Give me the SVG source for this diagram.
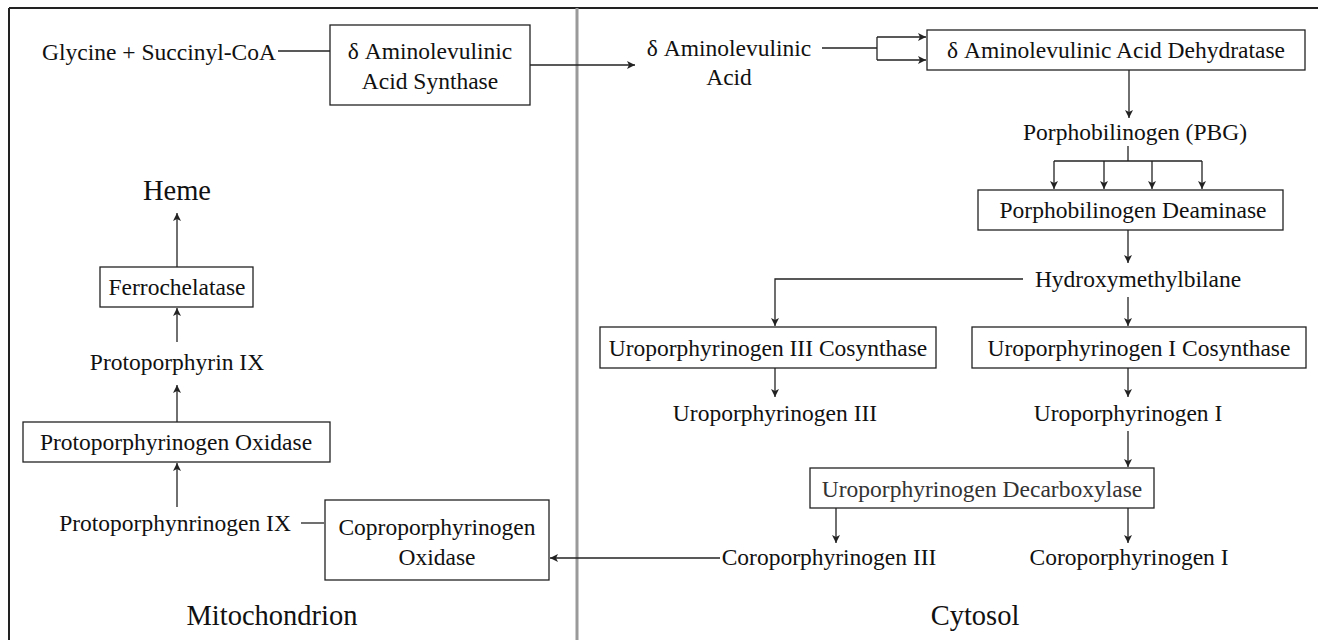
<svg xmlns="http://www.w3.org/2000/svg" width="1318" height="640" viewBox="0 0 1318 640">
<style>
text{font-family:"Liberation Serif","Times New Roman",serif;font-size:23.5px;fill:#111;text-anchor:middle;dominant-baseline:central}
.big{font-size:28.5px}
.box{fill:#fff;stroke:#222;stroke-width:1.3}
.ln{fill:none;stroke:#222;stroke-width:1.3}
.arr{fill:none;stroke:#222;stroke-width:1.3;marker-end:url(#ah)}
</style>
<defs>
<marker id="ah" markerWidth="10" markerHeight="10" refX="9" refY="5" orient="auto" markerUnits="userSpaceOnUse">
<path d="M1,1 L9,5 L1,9 L3,5 Z" fill="#222"/>
</marker>
</defs>
<rect width="1318" height="640" fill="#fff"/>
<g id="frame">
<line x1="9" y1="8" x2="1318" y2="8" stroke="#222" stroke-width="2"/>
<line x1="9" y1="8" x2="9" y2="640" stroke="#222" stroke-width="2"/>
<line x1="577" y1="8" x2="577" y2="640" stroke="#9a9a9a" stroke-width="3"/>
</g>
<g id="connectors">
<line class="ln" x1="278" y1="51" x2="330" y2="51"/>
<line class="arr" x1="530" y1="65" x2="635" y2="65"/>
<line class="ln" x1="822" y1="48" x2="877" y2="48"/>
<line class="ln" x1="877" y1="37" x2="877" y2="60"/>
<line class="arr" x1="877" y1="37" x2="926" y2="37"/>
<line class="arr" x1="877" y1="60" x2="926" y2="60"/>
<line class="arr" x1="1129" y1="70" x2="1129" y2="118"/>
<line class="ln" x1="1128" y1="146" x2="1128" y2="161"/>
<line class="ln" x1="1054" y1="161" x2="1202" y2="161"/>
<line class="arr" x1="1054" y1="161" x2="1054" y2="189"/>
<line class="arr" x1="1104" y1="161" x2="1104" y2="189"/>
<line class="arr" x1="1152" y1="161" x2="1152" y2="189"/>
<line class="arr" x1="1202" y1="161" x2="1202" y2="189"/>
<line class="arr" x1="1128" y1="230" x2="1128" y2="263"/>
<polyline class="arr" points="1023,279 775,279 775,326"/>
<line class="arr" x1="1128" y1="297" x2="1128" y2="326"/>
<line class="arr" x1="775" y1="368" x2="775" y2="397"/>
<line class="arr" x1="1128" y1="368" x2="1128" y2="397"/>
<line class="arr" x1="1128" y1="431" x2="1128" y2="467"/>
<line class="arr" x1="836" y1="508" x2="836" y2="543"/>
<line class="arr" x1="1128" y1="508" x2="1128" y2="543"/>
<line class="arr" x1="720" y1="558" x2="550" y2="558"/>
<line class="ln" x1="301" y1="523" x2="324" y2="523"/>
<line class="arr" x1="177" y1="507" x2="177" y2="463"/>
<line class="arr" x1="177" y1="422" x2="177" y2="385"/>
<line class="arr" x1="177" y1="342" x2="177" y2="308"/>
<line class="arr" x1="177" y1="267" x2="177" y2="213"/>
</g>
<g id="n-glycine"><text x="159" y="52">Glycine + Succinyl-CoA</text></g>
<g id="n-alas"><rect class="box" x="330" y="25" width="200" height="80"/><text x="430" y="51">δ Aminolevulinic</text><text x="430" y="81">Acid Synthase</text></g>
<g id="n-ala"><text x="729" y="48">δ Aminolevulinic</text><text x="729" y="77">Acid</text></g>
<g id="n-alad"><rect class="box" x="927" y="30" width="378" height="40"/><text x="1116" y="50">δ Aminolevulinic Acid Dehydratase</text></g>
<g id="n-pbg"><text x="1135" y="132">Porphobilinogen (PBG)</text></g>
<g id="n-pbgd"><rect class="box" x="978" y="190" width="305" height="40"/><text x="1133" y="210">Porphobilinogen Deaminase</text></g>
<g id="n-hmb"><text x="1138" y="279">Hydroxymethylbilane</text></g>
<g id="n-u3s"><rect class="box" x="600" y="327" width="336" height="41"/><text x="768" y="348">Uroporphyrinogen III Cosynthase</text></g>
<g id="n-u1s"><rect class="box" x="972" y="327" width="334" height="41"/><text x="1139" y="348">Uroporphyrinogen I Cosynthase</text></g>
<g id="n-u3"><text x="775" y="413">Uroporphyrinogen III</text></g>
<g id="n-u1"><text x="1128" y="413">Uroporphyrinogen I</text></g>
<g id="n-urod"><rect class="box" x="810" y="468" width="344" height="40"/><text x="982" y="489" style="fill:#333">Uroporphyrinogen Decarboxylase</text></g>
<g id="n-c3"><text x="829" y="557">Coroporphyrinogen III</text></g>
<g id="n-c1"><text x="1129" y="557">Coroporphyrinogen I</text></g>
<g id="n-cytosol"><text class="big" x="975" y="615">Cytosol</text></g>
<g id="n-cpox"><rect class="box" x="325" y="500" width="224" height="80"/><text x="437" y="527">Coproporphyrinogen</text><text x="437" y="557">Oxidase</text></g>
<g id="n-ppgen"><text x="175" y="523">Protoporphynrinogen IX</text></g>
<g id="n-ppox"><rect class="box" x="23" y="422" width="307" height="40"/><text x="176" y="442">Protoporphyrinogen Oxidase</text></g>
<g id="n-pp"><text x="177" y="362">Protoporphyrin IX</text></g>
<g id="n-fech"><rect class="box" x="100" y="267" width="153" height="40"/><text x="177" y="287">Ferrochelatase</text></g>
<g id="n-heme"><text class="big" x="177" y="190">Heme</text></g>
<g id="n-mito"><text class="big" x="272" y="615">Mitochondrion</text></g>
</svg>
